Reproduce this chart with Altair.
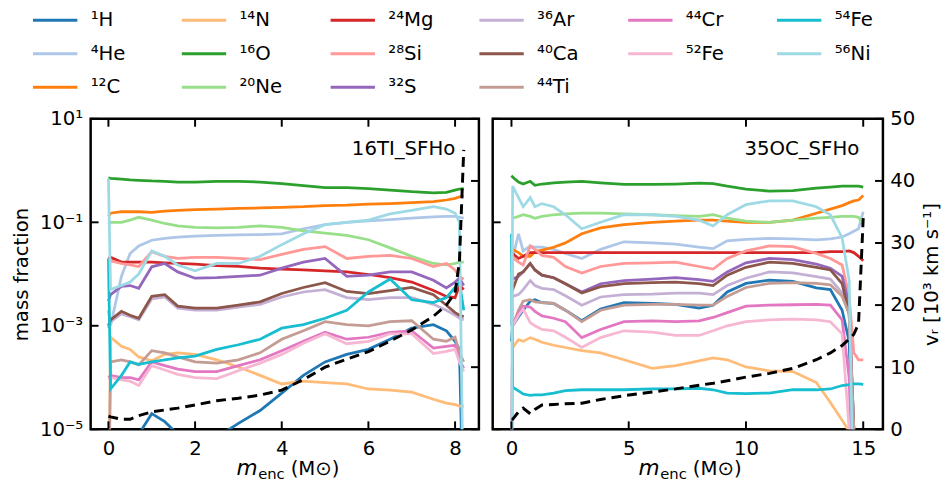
import altair as alt
import pandas as pd

FONT = "DejaVu Sans"

SPECIES = ["¹H", "⁴He", "¹²C", "¹⁴N", "¹⁶O", "²⁰Ne", "²⁴Mg", "²⁸Si",
           "³²S", "³⁶Ar", "⁴⁰Ca", "⁴⁴Ti", "⁴⁴Cr", "⁵²Fe", "⁵⁴Fe", "⁵⁶Ni"]
COLORS = ["#1f77b4", "#aec7e8", "#ff7f0e", "#ffbb78", "#2ca02c", "#98df8a",
          "#d62728", "#ff9896", "#9467bd", "#c5b0d5", "#8c564b", "#c49c94",
          "#e377c2", "#f7b6d2", "#17becf", "#9edae5"]
# legend read row by row (matplotlib fills column-wise with ncol=6)
LEGEND_ORDER = ["¹H", "¹⁴N", "²⁴Mg", "³⁶Ar", "⁴⁴Cr", "⁵⁴Fe",
                "⁴He", "¹⁶O", "²⁸Si", "⁴⁰Ca", "⁵²Fe", "⁵⁶Ni",
                "¹²C", "²⁰Ne", "³²S", "⁴⁴Ti"]

# ---------------- left panel: 16TI_SFHo ----------------
GRID_L = [0, 0.05, 0.3, 0.5, 0.7, 1.0, 1.3, 1.6, 2.0, 2.5, 3.0, 3.5, 4.0, 4.5,
          5.0, 5.5, 6.0, 6.5, 7.0, 7.5, 7.8, 8.0, 8.1, 8.2]
L_H1 = [1e-7, 1e-7, 1e-6, 3e-6, 8e-6, 2e-5, 1.4e-5, 8e-6, 3e-6, 7e-6, 1.3e-5, 2.3e-5,
        5e-5, 1.1e-4, 2e-4, 2.8e-4, 3.5e-4, 5.5e-4, 9e-4, 1.05e-3, 8e-4, 5e-4, 3.5e-4, 1e-7]
L_He4 = [2e-3, 1e-3, 9e-3, 0.025, 0.035, 0.045, 0.049, 0.052, 0.054, 0.056, 0.057, 0.058,
         0.06, 0.075, 0.09, 0.1, 0.107, 0.113, 0.12, 0.128, 0.13, 0.13, 0.125, 0.12]
L_C12 = [0.13, 0.15, 0.16, 0.16, 0.16, 0.155, 0.165, 0.17, 0.175, 0.18, 0.185, 0.19,
         0.195, 0.2, 0.21, 0.215, 0.225, 0.23, 0.24, 0.25, 0.27, 0.29, 0.31, 0.32]
L_N14 = [1e-7, 6e-4, 4e-4, 3.5e-4, 2.5e-4, 2.1e-4, 2.8e-4, 3e-4, 2.8e-4, 2.2e-4, 1.6e-4, 1.1e-4,
         7.5e-5, 8.5e-5, 8e-5, 7.5e-5, 6e-5, 5.7e-5, 5.2e-5, 3.8e-5, 3.2e-5, 3e-5, 2.8e-5, 2.8e-5]
L_O16 = [0.72, 0.71, 0.68, 0.66, 0.65, 0.63, 0.62, 0.6, 0.6, 0.62, 0.62, 0.6,
         0.56, 0.51, 0.47, 0.47, 0.45, 0.42, 0.39, 0.37, 0.38, 0.42, 0.44, 0.45]
L_Ne20 = [0.09, 0.1, 0.1, 0.11, 0.125, 0.11, 0.095, 0.085, 0.08, 0.078, 0.08, 0.085,
          0.08, 0.068, 0.062, 0.056, 0.046, 0.032, 0.022, 0.016, 0.015, 0.016, 0.017, 0.017]
L_Mg24 = [0.02, 0.021, 0.017, 0.017, 0.017, 0.017, 0.0165, 0.016, 0.0155, 0.0145, 0.014, 0.013,
          0.0125, 0.012, 0.0115, 0.011, 0.0098, 0.0085, 0.007, 0.0048, 0.0037, 0.0035, 0.006, 0.005]
L_Si28 = [0.015, 0.018, 0.016, 0.015, 0.014, 0.027, 0.022, 0.02, 0.021, 0.021, 0.02, 0.019,
          0.024, 0.03, 0.034, 0.02, 0.022, 0.023, 0.02, 0.014, 0.016, 0.012, 0.009, 0.008]
L_S32 = [3e-3, 4e-3, 5.8e-3, 6e-3, 5.3e-3, 0.0138, 0.016, 0.011, 8.3e-3, 8.5e-3, 9e-3, 9.5e-3,
         0.013, 0.017, 0.02, 0.009, 0.0095, 0.011, 0.011, 0.0076, 0.0054, 0.007, 0.0083, 0.006]
L_Ar36 = [9e-4, 1.2e-3, 1.7e-3, 1.5e-3, 1.3e-3, 3.3e-3, 3.6e-3, 2.2e-3, 2.0e-3, 2.0e-3, 2.3e-3, 2.6e-3,
          3.6e-3, 4.5e-3, 5.0e-3, 3.5e-3, 3.2e-3, 3.5e-3, 3.5e-3, 2.6e-3, 2.0e-3, 1.6e-3, 1.4e-3, 1.3e-3]
L_Ca40 = [1e-3, 1.3e-3, 1.9e-3, 1.6e-3, 1.4e-3, 3.7e-3, 4e-3, 2.4e-3, 2.2e-3, 2.2e-3, 2.5e-3, 2.9e-3,
          4.2e-3, 5.5e-3, 6.8e-3, 4.6e-3, 4.2e-3, 4.8e-3, 5.5e-3, 4e-3, 2.5e-3, 1.8e-3, 1.6e-3, 1.5e-3]
L_Ti44 = [1e-7, 2e-4, 2.2e-4, 2e-4, 1.75e-4, 3.3e-4, 3e-4, 2.5e-4, 2e-4, 1.9e-4, 2.2e-4, 3e-4,
          5.5e-4, 8e-4, 1.2e-3, 1.05e-3, 1e-3, 1.2e-3, 1.25e-3, 5.5e-4, 5e-4, 6e-4, 3e-4, 2e-4]
L_Cr44 = [1e-4, 1.1e-4, 1e-4, 1e-4, 9e-5, 2e-4, 1.7e-4, 1.45e-4, 1.3e-4, 1.3e-4, 1.7e-4, 2.2e-4,
          3.3e-4, 5e-4, 7.5e-4, 5.5e-4, 6e-4, 7.5e-4, 8e-4, 3.7e-4, 4e-4, 4.2e-4, 2.2e-4, 1.5e-4]
L_Fe52 = [9e-5, 1e-4, 9e-5, 8.5e-5, 7e-5, 1.7e-4, 1.4e-4, 1.15e-4, 1e-4, 9.5e-5, 1.35e-4, 1.9e-4,
          2.8e-4, 4.6e-4, 7e-4, 4.5e-4, 5e-4, 7e-4, 7e-4, 2.9e-4, 3.2e-4, 3.5e-4, 2e-4, 1.3e-4]
L_Fe54 = [0.02, 6e-5, 1.1e-4, 2e-4, 1.8e-4, 2e-4, 2.2e-4, 2.4e-4, 2.6e-4, 3.5e-4, 4.3e-4, 5.5e-4,
          9e-4, 1.05e-3, 1.4e-3, 2e-3, 4.5e-3, 8e-3, 3.2e-3, 2.8e-3, 3.5e-3, 5.5e-3, 7e-3, 2e-3]
L_Ni56 = [0.7, 5e-3, 6e-3, 7e-3, 0.01, 0.028, 0.022, 0.015, 0.0115, 0.016, 0.016, 0.022,
          0.037, 0.06, 0.09, 0.1, 0.11, 0.145, 0.17, 0.2, 0.18, 0.15, 0.1, 1e-7]
L_VR = [2.1, 2.0, 1.6, 1.6, 2.2, 2.8, 3.1, 3.4, 3.9, 4.6, 5.0, 5.5,
        6.3, 8.0, 10.0, 11.3, 12.5, 14.2, 16.0, 18.2, 20.0, 22.0, 27.0, 45.0]

# ---------------- right panel: 35OC_SFHo ----------------
GRID_R = [0, 0.05, 0.3, 0.5, 0.8, 1.0, 1.3, 1.8, 2.3, 3.0, 3.8, 4.8, 6.0, 7.0, 8.0,
          8.6, 9.2, 10.0, 11.0, 12.0, 13.0, 13.6, 14.1, 14.4, 14.6, 14.8, 15.0]
R_H1 = [5e-4, 1e-3, 1.5e-3, 2e-3, 3e-3, 3.2e-3, 2.8e-3, 2.7e-3, 2.0e-3, 1.25e-3, 2.1e-3, 2.8e-3,
        2.7e-3, 2.6e-3, 2.2e-3, 2.5e-3, 4.5e-3, 6.6e-3, 7.6e-3, 7.2e-3, 5.4e-3, 5e-3, 2e-3, 5e-4,
        1e-6, 1e-7, 1e-7]
R_He4 = [1e-3, 0.02, 0.06, 0.028, 0.035, 0.033, 0.033, 0.03, 0.025, 0.02, 0.03, 0.042,
         0.04, 0.038, 0.033, 0.031, 0.044, 0.047, 0.049, 0.048, 0.046, 0.048, 0.052, 0.06,
         0.067, 0.075, 0.16]
R_C12 = [0.035, 0.03, 0.026, 0.022, 0.022, 0.027, 0.029, 0.033, 0.04, 0.06, 0.078, 0.09,
         0.1, 0.105, 0.11, 0.11, 0.105, 0.1, 0.1, 0.11, 0.15, 0.18, 0.21, 0.24,
         0.26, 0.27, 0.33]
R_N14 = [3.8e-4, 3.8e-4, 5.4e-4, 5e-4, 5.9e-4, 5.5e-4, 4.8e-4, 4.2e-4, 3.8e-4, 3.3e-4, 3e-4, 2.2e-4,
         1.5e-4, 1.7e-4, 2.1e-4, 2.4e-4, 2.2e-4, 1.6e-4, 1.35e-4, 1.3e-4, 8e-5, 3.3e-5, 1.5e-5, 9e-6,
         1e-7, 1e-7, 1e-7]
R_O16 = [0.8, 0.75, 0.6, 0.55, 0.62, 0.52, 0.55, 0.58, 0.6, 0.62, 0.58, 0.54,
         0.54, 0.55, 0.57, 0.56, 0.5, 0.44, 0.4, 0.41, 0.46, 0.48, 0.5, 0.5,
         0.5, 0.5, 0.48]
R_Ne20 = [0.12, 0.12, 0.13, 0.14, 0.13, 0.12, 0.13, 0.14, 0.145, 0.15, 0.15, 0.145,
          0.14, 0.135, 0.13, 0.14, 0.12, 0.105, 0.1, 0.11, 0.12, 0.125, 0.13, 0.13,
          0.13, 0.125, 0.09]
R_Mg24 = [0.03, 0.025, 0.02, 0.022, 0.026, 0.026, 0.026, 0.026, 0.026, 0.026, 0.026, 0.026,
          0.026, 0.026, 0.026, 0.026, 0.026, 0.026, 0.026, 0.026, 0.026, 0.027, 0.027, 0.028,
          0.026, 0.022, 0.018]
R_Si28 = [0.02, 0.021, 0.017, 0.015, 0.035, 0.03, 0.023, 0.021, 0.014, 0.0105, 0.014, 0.016,
          0.0165, 0.017, 0.014, 0.0125, 0.02, 0.028, 0.035, 0.034, 0.025, 0.02, 0.015, 3.7e-3,
          3e-4, 2.2e-4, 2.2e-4]
R_S32 = [8e-3, 8e-3, 9e-3, 0.011, 0.016, 0.012, 0.0095, 0.0085, 0.0065, 0.0045, 0.0065, 0.0075,
         0.008, 0.0085, 0.0078, 0.0072, 0.011, 0.0165, 0.02, 0.019, 0.0155, 0.013, 0.009, 2.5e-3,
         1e-5, 1e-7, 1e-7]
R_Ar36 = [3.7e-3, 3.7e-3, 4e-3, 5e-3, 7.5e-3, 6e-3, 5.3e-3, 5e-3, 3.8e-3, 2.5e-3, 3.6e-3, 4e-3,
          4.1e-3, 4.3e-3, 4.3e-3, 4e-3, 6e-3, 8.3e-3, 0.011, 0.0105, 8.9e-3, 8e-3, 4.3e-3, 1.7e-3,
          1e-5, 1e-7, 1e-7]
R_Ca40 = [5e-3, 5e-3, 0.01, 0.011, 0.016, 0.012, 0.0095, 0.0085, 0.0065, 0.0043, 0.0057, 0.0065,
          0.0068, 0.007, 0.0065, 0.006, 0.0095, 0.0135, 0.017, 0.016, 0.0135, 0.012, 0.0065, 1.7e-3,
          1e-5, 1e-7, 1e-7]
R_Ti44 = [1e-6, 1e-3, 2e-3, 3e-3, 3.2e-3, 2.9e-3, 2.8e-3, 2.7e-3, 2e-3, 1.2e-3, 2e-3, 2.5e-3,
          2.6e-3, 2.6e-3, 2.5e-3, 2.5e-3, 3.7e-3, 5.5e-3, 6.6e-3, 6.8e-3, 6.6e-3, 6.2e-3, 3.7e-3, 1.7e-3,
          1e-5, 1e-7, 1e-7]
R_Cr44 = [1e-6, 1e-3, 1.8e-3, 2.4e-3, 2.3e-3, 1.9e-3, 1.55e-3, 1.4e-3, 1.2e-3, 5.9e-4, 8.5e-4, 1.2e-3,
          1.25e-3, 1.2e-3, 1.25e-3, 1.45e-3, 1.8e-3, 2.4e-3, 2.5e-3, 2.55e-3, 2.6e-3, 2.5e-3, 1.3e-3, 1e-4,
          1e-7, 1e-7, 1e-7]
R_Fe52 = [1e-6, 1e-3, 1.6e-3, 2.1e-3, 1.15e-3, 1e-3, 8.5e-4, 8e-4, 6e-4, 3.8e-4, 5.9e-4, 8e-4,
          7.5e-4, 6.5e-4, 6.5e-4, 8e-4, 1e-3, 1.2e-3, 1.3e-3, 1.35e-3, 1.3e-3, 1.2e-3, 7e-4, 1e-5,
          1e-7, 1e-7, 1e-7]
R_Fe54 = [0.06, 6.5e-5, 5.5e-5, 4.8e-5, 4.5e-5, 4.6e-5, 4.6e-5, 5e-5, 5.6e-5, 5.8e-5, 5.8e-5, 5.8e-5,
          6e-5, 6e-5, 6.2e-5, 5.8e-5, 5e-5, 4.9e-5, 5e-5, 5.8e-5, 5.8e-5, 6e-5, 7e-5, 7.3e-5,
          7.5e-5, 7.5e-5, 7.4e-5]
R_Ni56 = [1e-7, 0.5, 0.3, 0.2, 0.3, 0.2, 0.23, 0.2, 0.14, 0.075, 0.1, 0.14,
          0.14, 0.13, 0.11, 0.085, 0.14, 0.22, 0.26, 0.26, 0.2, 0.14, 0.05, 7.6e-3,
          1e-7, 1e-7, 1e-7]
R_VR = [1.6, 1.6, 2.8, 3.4, 2.5, 3.2, 3.9, 4.0, 4.1, 4.2, 4.8, 5.4,
        6.0, 6.5, 7.1, 7.4, 7.8, 8.4, 9.0, 9.8, 11.2, 12.3, 13.5, 14.5,
        15.3, 17.0, 34.0]

LEFT = [L_H1, L_He4, L_C12, L_N14, L_O16, L_Ne20, L_Mg24, L_Si28, L_S32, L_Ar36,
        L_Ca40, L_Ti44, L_Cr44, L_Fe52, L_Fe54, L_Ni56]
RIGHT = [R_H1, R_He4, R_C12, R_N14, R_O16, R_Ne20, R_Mg24, R_Si28, R_S32, R_Ar36,
         R_Ca40, R_Ti44, R_Cr44, R_Fe52, R_Fe54, R_Ni56]

LOG_TICKS = [10, 0.1, 1e-3, 1e-5]
VR_TICKS = [0, 10, 20, 30, 40, 50]

H = 315
COLOR_OF = dict(zip(SPECIES, COLORS))
color_scale = alt.Scale(domain=LEGEND_ORDER, range=[COLOR_OF[s] for s in LEGEND_ORDER])
legend = alt.Legend(title=None, orient="none", legendX=-60, legendY=-124, columns=6,
                    direction="horizontal", symbolType="stroke", symbolSize=2025,
                    symbolStrokeWidth=3, labelFontSize=20, labelFont=FONT, labelOffset=12,
                    columnPadding=40, rowPadding=0, gridAlign="all", labelColor="black")


def long_df(grid, series):
    recs = []
    for sp, vals in zip(SPECIES, series):
        for xv, yv in zip(grid, vals):
            recs.append({"species": sp, "m": xv, "X": yv})
    return pd.DataFrame(recs)


def panel(grid, series, vr, xdom, xticks, w, label, left_labels):
    xsc = alt.Scale(domain=xdom, nice=False, zero=False)
    ysc = alt.Scale(type="log", domain=[1e-5, 10], nice=False)
    vsc = alt.Scale(domain=[0, 50], nice=False, zero=False)
    xaxis = alt.Axis(values=xticks, ticks=False, domain=False, grid=False, title=None,
                     format="d", labelFontSize=20, labelPadding=10)
    if left_labels:
        yaxis = alt.Axis(values=LOG_TICKS, orient="left", ticks=False, domain=False, grid=False,
                         labelExpr="datum.value > 5 ? '10¹' : datum.value > 0.05 ? '10⁻¹' : "
                                   "datum.value > 5e-4 ? '10⁻³' : '10⁻⁵'",
                         labelFontSize=20, labelPadding=8, title="mass fraction",
                         titleFontSize=20, titlePadding=8, titleFontWeight="normal")
        vaxis = None
    else:
        yaxis = None
        vaxis = alt.Axis(values=VR_TICKS, orient="right", ticks=False, domain=False, grid=False,
                         labelFontSize=20, labelPadding=7, title="vᵣ [10³ km s⁻¹]",
                         titleFontSize=20, titlePadding=27, titleAngle=270,
                         titleFontWeight="normal")

    df = long_df(grid, series)
    lines = alt.Chart(df).mark_line(clip=True, strokeWidth=2.8).encode(
        x=alt.X("m:Q", scale=xsc, axis=xaxis),
        y=alt.Y("X:Q", scale=ysc, axis=yaxis),
        color=alt.Color("species:N", scale=color_scale, legend=legend),
    )
    vdf = pd.DataFrame({"m": grid, "vr": vr})
    vline = alt.Chart(vdf).mark_line(clip=True, color="black", strokeWidth=3,
                                     strokeDash=[10, 6]).encode(
        x=alt.X("m:Q", scale=xsc, axis=xaxis),
        y=alt.Y("vr:Q", scale=vsc, axis=vaxis),
    )
    rule = dict(color="black", strokeWidth=2)
    xt = pd.DataFrame({"m": xticks})
    bottom = alt.Chart(xt).mark_rule(**rule).encode(
        x=alt.X("m:Q", scale=xsc, axis=xaxis), y=alt.value(H), y2=alt.value(H - 8))
    top = alt.Chart(xt).mark_rule(**rule).encode(
        x=alt.X("m:Q", scale=xsc, axis=xaxis), y=alt.value(0), y2=alt.value(8))
    lt = alt.Chart(pd.DataFrame({"X": LOG_TICKS})).mark_rule(**rule).encode(
        y=alt.Y("X:Q", scale=ysc, axis=None), x=alt.value(0), x2=alt.value(8))
    rt = alt.Chart(pd.DataFrame({"vr": VR_TICKS})).mark_rule(**rule).encode(
        y=alt.Y("vr:Q", scale=vsc, axis=None), x=alt.value(w - 8), x2=alt.value(w))
    name = alt.Chart(pd.DataFrame({"t": [label]})).mark_text(
        align="right", baseline="alphabetic", fontSize=20, font=FONT, color="black").encode(
        text="t:N", x=alt.value(w - 24), y=alt.value(37))
    t_m = alt.Chart(pd.DataFrame({"t": ["m"]})).mark_text(
        align="left", baseline="alphabetic", fontSize=22, font=FONT, fontStyle="italic",
        color="black").encode(text="t:N", x=alt.value(148), y=alt.value(H + 46))
    t_enc = alt.Chart(pd.DataFrame({"t": ["enc"]})).mark_text(
        align="left", baseline="alphabetic", fontSize=15, font=FONT,
        color="black").encode(text="t:N", x=alt.value(170), y=alt.value(H + 50))
    t_unit = alt.Chart(pd.DataFrame({"t": ["(M⊙)"]})).mark_text(
        align="left", baseline="alphabetic", fontSize=20, font=FONT,
        color="black").encode(text="t:N", x=alt.value(203), y=alt.value(H + 46))
    return alt.layer(lines, vline, lt, rt, bottom, top, name, t_m, t_enc, t_unit).resolve_scale(
        y="independent").properties(width=w, height=H)


left = panel(GRID_L, LEFT, L_VR, [-0.41, 8.55], [0, 2, 4, 6, 8], 394, "16TI_SFHo", True)
right = panel(GRID_R, RIGHT, R_VR, [-0.8, 15.84], [0, 5, 10, 15], 396, "35OC_SFHo", False)

chart = alt.hconcat(left, right, spacing=8).properties(
    padding={"left": 10, "top": -7, "right": 2, "bottom": 0}, background="white"
).configure_view(stroke="black", strokeWidth=2.5).configure_axis(
    labelFont=FONT, titleFont=FONT, labelColor="black", titleColor="black"
)

chart.save("out.html", embed_options={"renderer": "svg", "actions": False})
